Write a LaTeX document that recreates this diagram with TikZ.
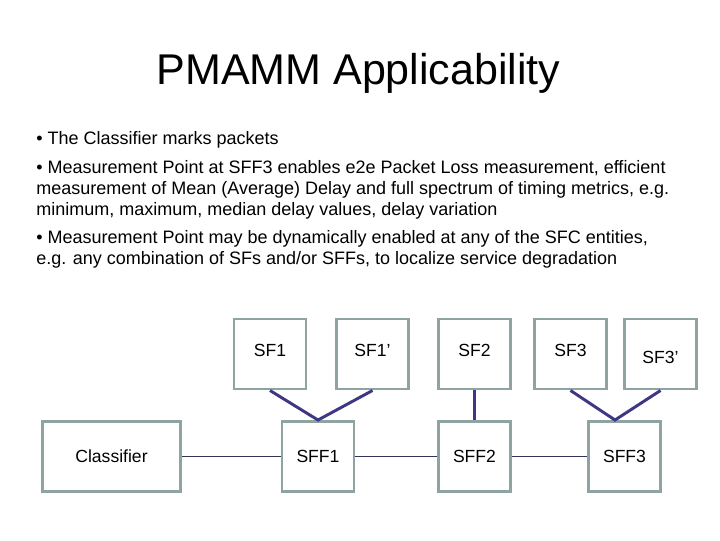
\documentclass[tikz,border=0pt]{standalone}
\usepackage{fontspec}
\setmainfont{Liberation Sans}
\usepackage{xcolor}
\usetikzlibrary{positioning}
\definecolor{cbox}  {RGB}{143,163,163}
\definecolor{clink} {RGB}{62, 56,132}
\definecolor{cwire} {RGB}{50, 50, 90}
\tikzset{
  fbox/.style={rectangle, draw=cbox, line width=2.1pt, fill=white,
               font=\fontsize{12.5}{15}\selectfont,
               minimum width=1.8cm, minimum height=1.75cm, inner sep=0pt},
  topbox/.style={fbox, text depth=5.6pt},
  link/.style={line width=2.1pt, color=clink},
  wire/.style={line width=0.7pt, color=cwire},
  txt/.style={anchor=base west, inner sep=0pt, align=left,
              font=\fontsize{12.8}{14.9}\selectfont},
}

\begin{document}
\begin{tikzpicture}[x=0.025cm, y=-0.025cm]
  \useasboundingbox (0,0) rectangle (720,540);

  % ── Title ──────────────────────────────────────────────────────────────────
  \node[anchor=base, inner sep=0pt, font=\fontsize{30.6}{36}\selectfont]
      at (358.5,84) (title) {PMAMM Applicability};

  % ── Bullet points (anchored on their last line) ────────────────────────────
  \node[txt] at (36,144) (pt1) {• The Classifier marks packets};
  \node[txt] at (36,215) (pt2)
      {• Measurement Point at SFF3 enables e2e Packet Loss measurement, efficient\\
       measurement of Mean (Average) Delay and full spectrum of timing metrics, e.g.\\
       minimum, maximum, median delay values, delay variation};
  \node[txt] at (36,264) (pt3)
      {• Measurement Point may be dynamically enabled at any of the SFC entities,\\
       e.g. any combination of SFs and/or SFFs, to localize service degradation};

  % ── Service functions ──────────────────────────────────────────────────────
  \node[topbox] at (270,354)   (sf1)  {SF1};
  \node[topbox] at (372.5,354) (sf1p) {SF1’};
  \node[topbox] at (474.5,354) (sf2)  {SF2};
  \node[topbox] at (570.5,354) (sf3)  {SF3};
  \node[fbox, text height=13pt] at (660.5,354) (sf3p) {SF3’};

  % ── Classifier and forwarders ──────────────────────────────────────────────
  \node[fbox, minimum width=3.45cm] at (111.5,456.5) (cls) {Classifier};
  \node[fbox] at (318,456.5)   (sff1) {SFF1};
  \node[fbox] at (474.5,456.5) (sff2) {SFF2};
  \node[fbox] at (624.5,456.5) (sff3) {SFF3};
  \coordinate (j3) at (615,420);

  % ── Connectors ─────────────────────────────────────────────────────────────
  \draw[link] (sf1.south)  -- (sff1.north) -- (sf1p.south);
  \draw[link] (sf2.south)  -- (sff2.north);
  \draw[link] (sf3.south)  -- (j3) -- (sf3p.south);
  \draw[wire] (cls.east)   -- (sff1.west);
  \draw[wire] (sff1.east)  -- (sff2.west);
  \draw[wire] (sff2.east)  -- (sff3.west);
\end{tikzpicture}
\end{document}
